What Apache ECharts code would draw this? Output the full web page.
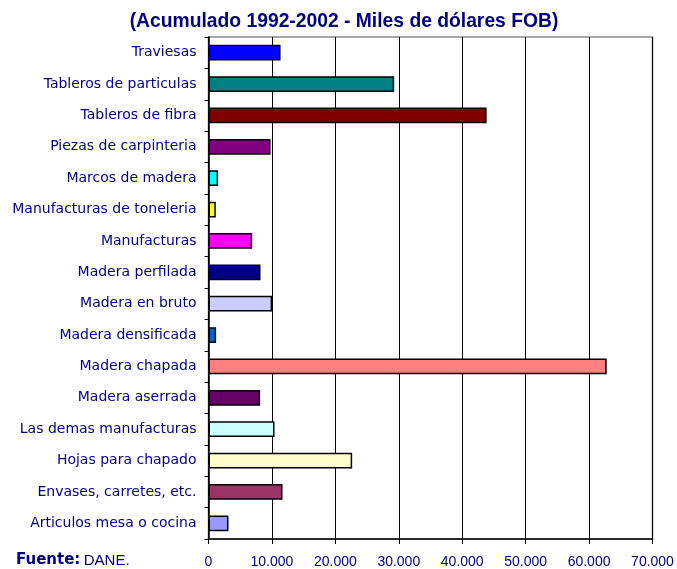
<!DOCTYPE html>
<html>
<head>
<meta charset="utf-8">
<script src="https://cdn.jsdelivr.net/npm/echarts@6/dist/echarts.min.js"></script>
<style>
html,body{margin:0;padding:0;background:#fff;}
#c{width:677px;height:569px;}
</style>
</head>
<body>
<div id="c"></div>
<script>
const categories = [
  "Traviesas",
  "Tableros de particulas",
  "Tableros de fibra",
  "Piezas de carpinteria",
  "Marcos de madera",
  "Manufacturas de toneleria",
  "Manufacturas",
  "Madera perfilada",
  "Madera en bruto",
  "Madera densificada",
  "Madera chapada",
  "Madera aserrada",
  "Las demas manufacturas",
  "Hojas para chapado",
  "Envases, carretes, etc.",
  "Articulos mesa o cocina"
];
const values = [11360, 29270, 43850, 9780, 1510, 1150, 6880, 8200, 10030, 1200, 62780, 8140, 10410, 22650, 11670, 3150];
const barColors = ["#0000FF","#008080","#800000","#800080","#00FFFF","#FFFF00","#FF00FF","#000080","#CCCCFF","#0066CC","#FF8080","#660066","#CCFFFF","#FFFFCC","#993366","#9999FF"];
const xTicks = [0, 10000, 20000, 30000, 40000, 50000, 60000, 70000];
const titleText = "(Acumulado 1992-2002 - Miles de dólares FOB)";

const navy = "#000080";
function fmt(v){ return String(v).replace(/\B(?=(\d{3})+(?!\d))/g, "."); }

const chart = echarts.init(document.getElementById("c"));
chart.setOption({
  animation: false,
  backgroundColor: "#fff",
  title: {
    text: titleText,
    left: 339, top: 7, textAlign: "center",
    textStyle: { fontFamily: "Liberation Sans Narrow, Arial Narrow, Liberation Sans, Arial", fontWeight: "bold", fontSize: 19.3, color: navy }
  },
  grid: { left: 208.5, right: 24.5, top: 37, bottom: 30, show: true, borderColor: "#8c8c8c", borderWidth: 1.5, containLabel: false },
  xAxis: {
    type: "value", min: xTicks[0], max: xTicks[xTicks.length-1], interval: 10000,
    axisLine: { show: true, lineStyle: { color: "#000", width: 1.5 } },
    axisTick: { show: true, length: 5, lineStyle: { color: "#000" } },
    axisLabel: { color: navy, fontSize: 14, fontFamily: "Liberation Sans, Arial", margin: 16, formatter: fmt },
    splitLine: { show: true, lineStyle: { color: "#000", width: 1 } }
  },
  yAxis: {
    type: "category", data: categories, inverse: true,
    axisLine: { show: true, lineStyle: { color: "#000", width: 1.5 } },
    axisTick: { show: true, length: 4, lineStyle: { color: "#000" } },
    axisLabel: { color: navy, fontSize: 14, fontFamily: "DejaVu Sans", margin: 12 },
    splitLine: { show: false }
  },
  series: [{
    type: "bar",
    data: values.map((v, i) => ({ value: v, itemStyle: { color: barColors[i] } })),
    barWidth: "50%",
    itemStyle: { borderColor: "#000", borderWidth: 1.5 }
  }],
  graphic: [{
    type: "text", left: 16, top: 553,
    style: {
      text: "{b|Fuente:} {n|DANE.}",
      rich: {
        b: { fontFamily: "DejaVu Sans", fontWeight: "bold", fontSize: 15, fill: navy },
        n: { fontFamily: "Liberation Sans, Arial", fontSize: 15, fill: navy }
      }
    }
  }]
});
</script>
</body>
</html>
